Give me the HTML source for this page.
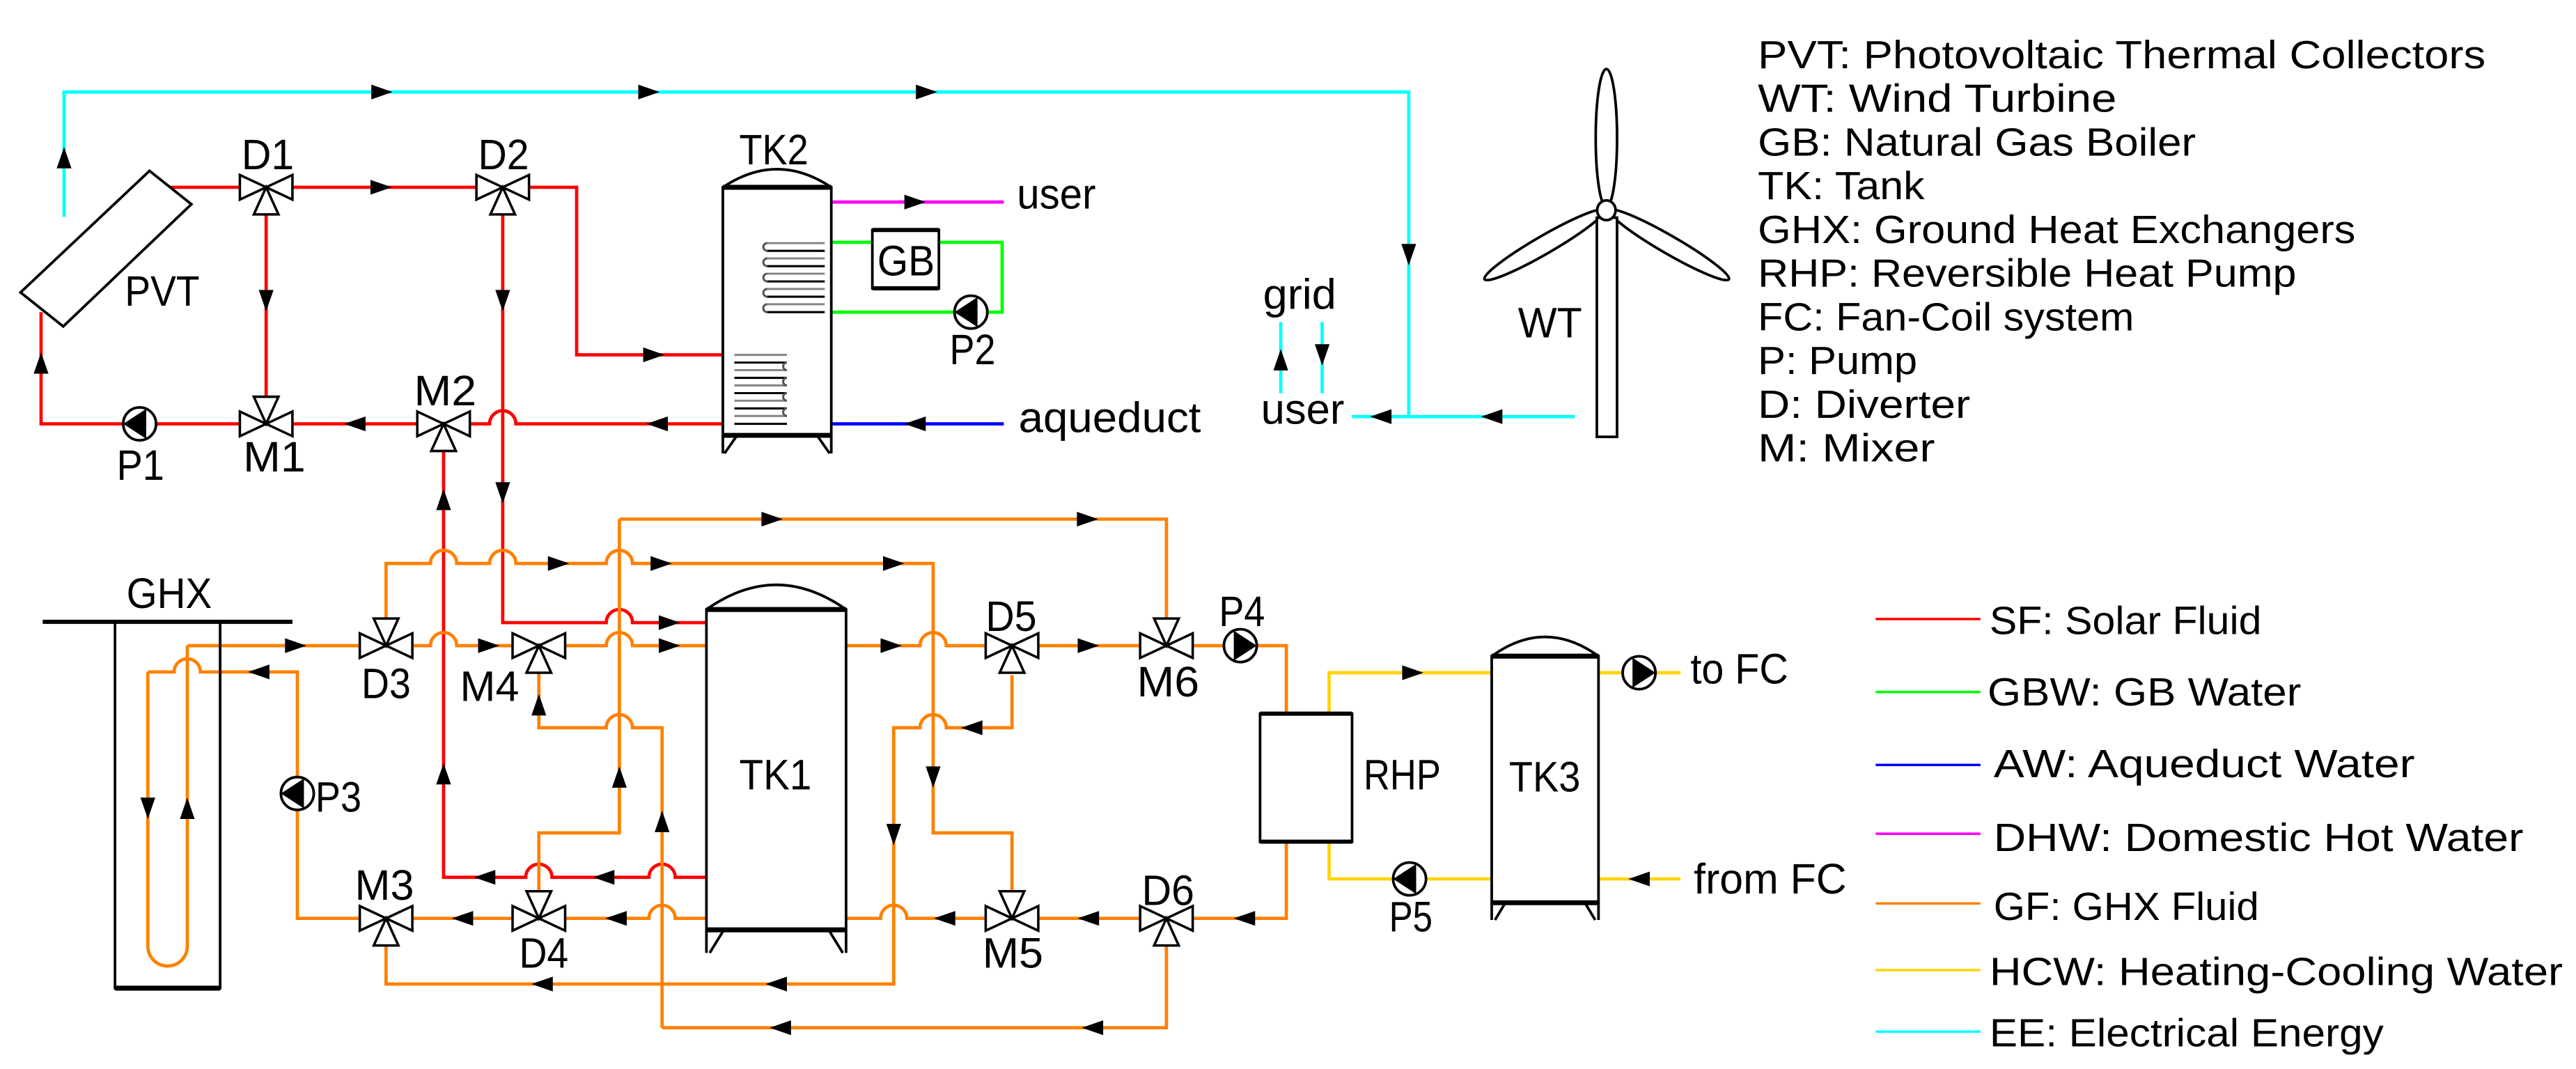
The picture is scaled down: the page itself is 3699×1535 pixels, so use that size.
<!DOCTYPE html>
<html><head><meta charset="utf-8"><style>
html,body{margin:0;padding:0;background:#fff;}
svg{display:block;}
text{font-family:"Liberation Sans",sans-serif;fill:#000;}
.l{font-size:26px;}
.g{font-size:24px;}
.r{stroke:#ff0000;}.o{stroke:#ff8000;}.y{stroke:#ffd400;}.c{stroke:#00ffff;}.gr{stroke:#00ff00;}.b{stroke:#0000ff;}.m{stroke:#ff00ff;}
path.p{fill:none;stroke-width:2;}
</style></head><body>
<svg width="3699" height="1535" viewBox="0 0 1568 650.7" preserveAspectRatio="none" xmlns="http://www.w3.org/2000/svg">
<defs>
<path id="ar" d="M6.5,0 L-6.5,-4.5 L-6.5,4.5Z" fill="#000"/>
<g id="v"><path d="M-16,-7.5 L16,7.5 L16,-7.5 L-16,7.5Z" fill="#fff" stroke="#000" stroke-width="1.5" stroke-linejoin="miter"/><path d="M0,0 L-7.5,16.5 L7.5,16.5Z" fill="#fff" stroke="#000" stroke-width="1.5"/></g>
<g id="pu"><circle r="10" fill="#fff" stroke="#000" stroke-width="1.6"/><path d="M-4,-9.1 L10,0 L-4,9.1Z" fill="#000"/></g>
</defs>
<rect width="1568" height="650.7" fill="#fff"/>

<!-- cyan -->
<path class="p c" d="M39,132 V56 H857.5 V253.6 M823,253.6 H958.6 M779.6,196 V239.4 M804.8,196 V239.4"/>
<!-- red -->
<path class="p r" d="M103.5,114 H351 V216 H445 M162,114 V258 M306,114 V379 H369 a8,8 0 0 1 16,0 H430 M25,190 V258 H298 a8,8 0 0 1 16,0 H445 M270,258 V534 H320 a8,8 0 0 1 16,0 H395 a8,8 0 0 1 16,0 H430"/>
<!-- green, magenta, blue -->
<path class="p gr" d="M500,147.5 H531 M571,147.5 H610 V190 H500"/>
<path class="p m" d="M506,123 H611"/>
<path class="p b" d="M506,258 H611"/>
<!-- orange -->
<path class="p o" d="M377,316 H710 V378 M377,316 V507 H328 V542
M235,378 V343 H262 a8,8 0 0 1 16,0 H298 a8,8 0 0 1 16,0 H369 a8,8 0 0 1 16,0 H568 V507 H616 V542
M114,393 V576 a12,12 0 0 1 -24,0 V409
M114,393 H262 a8,8 0 0 1 16,0 H369 a8,8 0 0 1 16,0 H430
M90,409 H106 a8,8 0 0 1 16,0 H181 V559 H235
M328,393 V443 H369 a8,8 0 0 1 16,0 H403 V625.6
M235,559 H395 a8,8 0 0 1 16,0 H430
M235,575 V599 H544 V443 H560 a8,8 0 0 1 16,0 H616 V411
M515,393 H560 a8,8 0 0 1 16,0 H783 V434
M515,559 H536 a8,8 0 0 1 16,0 H783 V512
M710,559 V625.6 H403"/>
<!-- yellow -->
<path class="p y" d="M809,434 V409.5 H908 M809,512 V535 H908 M973,409.5 H1023 M973,535 H1023"/>

<!-- PVT -->
<path d="M91,104 L116.5,124.3 L38.5,198.7 L12.5,178Z" fill="#fff" stroke="#000" stroke-width="1.6"/>

<!-- TK2 -->
<g fill="none" stroke="#000" stroke-width="1.6">
<rect x="440" y="114" width="66" height="151" fill="#fff"/>
<path d="M440,114 Q473,92 506,114"/>
<path d="M440,114 H506 M440,265 H506" stroke-width="3"/>
<path d="M440,265 V276 M448,266 L441,276 M506,265 V276 M498,266 L505,276"/>
<rect x="430" y="371" width="85" height="195" fill="#fff"/>
<path d="M430,371 Q472.5,341 515,371"/>
<path d="M430,371 H515 M430,566 H515" stroke-width="3"/>
<path d="M430,566 V580 M440,567 L432,580 M515,566 V580 M505,567 L513,580"/>
<rect x="908" y="399.4" width="65" height="150" fill="#fff"/>
<path d="M908,399.4 Q940.5,376 973,399.4"/>
<path d="M908,399.4 H973 M908,549.5 H973" stroke-width="3"/>
<path d="M908,549.5 V560 M916,550 L910,560 M973,549.5 V560 M965,550 L971,560"/>
<rect x="767" y="434.4" width="56" height="78" fill="#fff"/>
<path d="M767,434.4 H823 M767,512.3 H823" stroke-width="2.5"/>
<rect x="531" y="140" width="40.5" height="35.5" fill="#fff"/>
<path d="M531,140 H571.5 M531,175.5 H571.5" stroke-width="2.5"/>
<!-- GHX -->
<path d="M26,378.5 H178" stroke-width="2.5"/>
<path d="M70,378.5 V601.5 H134 V378.5"/>
<path d="M70,601.5 H134" stroke-width="3"/>
</g>
<!-- coils -->
<g fill="none" stroke-width="1.3">
<path stroke="#888" d="M502,148 H467 M502,157.3 H467 M502,166.6 H467 M502,175.9 H467 M502,185.2 H467"/>
<path stroke="#000" d="M502,152.7 H467 M502,162 H467 M502,171.3 H467 M502,180.6 H467 M502,190 H467"/>
<path stroke="#555" d="M467,148 a2.3,2.3 0 0 0 0,4.7 M467,157.3 a2.3,2.3 0 0 0 0,4.7 M467,166.6 a2.3,2.3 0 0 0 0,4.7 M467,175.9 a2.3,2.3 0 0 0 0,4.7 M467,185.2 a2.3,2.3 0 0 0 0,4.8"/>
<path stroke="#888" d="M447,216 H479 M447,225.3 H479 M447,234.6 H479 M447,243.9 H479 M447,253.2 H479"/>
<path stroke="#000" d="M447,220.7 H479 M447,230 H479 M447,239.3 H479 M447,248.6 H479 M447,258 H479"/>
<path stroke="#555" d="M479,220.7 a2.3,2.3 0 0 0 0,4.6 M479,230 a2.3,2.3 0 0 0 0,4.6 M479,239.3 a2.3,2.3 0 0 0 0,4.6 M479,248.6 a2.3,2.3 0 0 0 0,4.6"/>
</g>

<!-- wind turbine -->
<g fill="#fff" stroke="#000" stroke-width="1.6">
<ellipse cx="977.8" cy="84" rx="6.5" ry="42"/>
<ellipse cx="940" cy="149" rx="42" ry="5.5" transform="rotate(-30 940 149)"/>
<ellipse cx="1016" cy="149" rx="42" ry="5.5" transform="rotate(30 1016 149)"/>
<rect x="972" y="132.5" width="12.3" height="133.4"/>
<ellipse cx="977.8" cy="128" rx="5.6" ry="6"/>
</g>

<!-- valves -->
<use href="#v" transform="translate(162,114)"/>
<use href="#v" transform="translate(306,114)"/>
<use href="#v" transform="translate(162,258) rotate(180)"/>
<use href="#v" transform="translate(270,258)"/>
<use href="#v" transform="translate(235,393) rotate(180)"/>
<use href="#v" transform="translate(328,393)"/>
<use href="#v" transform="translate(616,393)"/>
<use href="#v" transform="translate(710,393) rotate(180)"/>
<use href="#v" transform="translate(235,559)"/>
<use href="#v" transform="translate(328,559) rotate(180)"/>
<use href="#v" transform="translate(616,559) rotate(180)"/>
<use href="#v" transform="translate(710,559)"/>

<!-- pumps -->
<use href="#pu" transform="translate(85,258) rotate(180)"/>
<use href="#pu" transform="translate(591,190) rotate(180)"/>
<use href="#pu" transform="translate(181,483) rotate(180)"/>
<use href="#pu" transform="translate(755,393)"/>
<use href="#pu" transform="translate(858,535) rotate(180)"/>
<use href="#pu" transform="translate(997.7,409.5)"/>

<!-- arrows -->
<use href="#ar" transform="translate(232,114)"/>
<use href="#ar" transform="translate(398,216)"/>
<use href="#ar" transform="translate(162,183) rotate(90)"/>
<use href="#ar" transform="translate(306,183) rotate(90)"/>
<use href="#ar" transform="translate(306,300) rotate(90)"/>
<use href="#ar" transform="translate(25,221) rotate(-90)"/>
<use href="#ar" transform="translate(216,258) rotate(180)"/>
<use href="#ar" transform="translate(400,258) rotate(180)"/>
<use href="#ar" transform="translate(270,304) rotate(-90)"/>
<use href="#ar" transform="translate(270,471) rotate(-90)"/>
<use href="#ar" transform="translate(407.5,379)"/>
<use href="#ar" transform="translate(295,534) rotate(180)"/>
<use href="#ar" transform="translate(367.5,534) rotate(180)"/>
<use href="#ar" transform="translate(557,123)"/>
<use href="#ar" transform="translate(557,258) rotate(180)"/>
<use href="#ar" transform="translate(39,96) rotate(-90)"/>
<use href="#ar" transform="translate(232.5,56)"/>
<use href="#ar" transform="translate(395,56)"/>
<use href="#ar" transform="translate(564,56)"/>
<use href="#ar" transform="translate(857.5,155) rotate(90)"/>
<use href="#ar" transform="translate(840.5,253.6) rotate(180)"/>
<use href="#ar" transform="translate(908,253.6) rotate(180)"/>
<use href="#ar" transform="translate(779.6,219) rotate(-90)"/>
<use href="#ar" transform="translate(804.8,216) rotate(90)"/>
<use href="#ar" transform="translate(470,316)"/>
<use href="#ar" transform="translate(662,316)"/>
<use href="#ar" transform="translate(377,473) rotate(-90)"/>
<use href="#ar" transform="translate(340,343)"/>
<use href="#ar" transform="translate(402.5,343)"/>
<use href="#ar" transform="translate(544,343)"/>
<use href="#ar" transform="translate(568,473) rotate(90)"/>
<use href="#ar" transform="translate(180,393)"/>
<use href="#ar" transform="translate(297.5,393)"/>
<use href="#ar" transform="translate(407.5,393)"/>
<use href="#ar" transform="translate(157.5,409) rotate(180)"/>
<use href="#ar" transform="translate(90,492) rotate(90)"/>
<use href="#ar" transform="translate(114,492) rotate(-90)"/>
<use href="#ar" transform="translate(328,429) rotate(-90)"/>
<use href="#ar" transform="translate(403,500) rotate(-90)"/>
<use href="#ar" transform="translate(281.5,559) rotate(180)"/>
<use href="#ar" transform="translate(375,559) rotate(180)"/>
<use href="#ar" transform="translate(330,599) rotate(180)"/>
<use href="#ar" transform="translate(472.5,599) rotate(180)"/>
<use href="#ar" transform="translate(544,508) rotate(90)"/>
<use href="#ar" transform="translate(591.5,443) rotate(180)"/>
<use href="#ar" transform="translate(542.5,393)"/>
<use href="#ar" transform="translate(662.5,393)"/>
<use href="#ar" transform="translate(575,559) rotate(180)"/>
<use href="#ar" transform="translate(662.5,559) rotate(180)"/>
<use href="#ar" transform="translate(757.5,559) rotate(180)"/>
<use href="#ar" transform="translate(665,625.6) rotate(180)"/>
<use href="#ar" transform="translate(475,625.6) rotate(180)"/>
<use href="#ar" transform="translate(860,409.5)"/>
<use href="#ar" transform="translate(997.7,535) rotate(180)"/>

<!-- diagram labels -->
<g class="l" lengthAdjust="spacingAndGlyphs">
<text x="76" y="186" textLength="45.5" lengthAdjust="spacingAndGlyphs">PVT</text>
<text x="147" y="103" textLength="32" lengthAdjust="spacingAndGlyphs">D1</text>
<text x="291" y="103" textLength="31" lengthAdjust="spacingAndGlyphs">D2</text>
<text x="450" y="100" textLength="42" lengthAdjust="spacingAndGlyphs">TK2</text>
<text x="619" y="127" textLength="48" lengthAdjust="spacingAndGlyphs">user</text>
<text x="534" y="167.6" textLength="35" lengthAdjust="spacingAndGlyphs">GB</text>
<text x="578" y="221.7" textLength="28" lengthAdjust="spacingAndGlyphs">P2</text>
<text x="620" y="263" textLength="111" lengthAdjust="spacingAndGlyphs">aqueduct</text>
<text x="71" y="292" textLength="29" lengthAdjust="spacingAndGlyphs">P1</text>
<text x="148" y="287" textLength="38" lengthAdjust="spacingAndGlyphs">M1</text>
<text x="252" y="246.7" textLength="38" lengthAdjust="spacingAndGlyphs">M2</text>
<text x="77" y="370" textLength="52" lengthAdjust="spacingAndGlyphs">GHX</text>
<text x="220" y="425" textLength="30" lengthAdjust="spacingAndGlyphs">D3</text>
<text x="280" y="426.7" textLength="36" lengthAdjust="spacingAndGlyphs">M4</text>
<text x="192" y="494" textLength="28" lengthAdjust="spacingAndGlyphs">P3</text>
<text x="216" y="547.6" textLength="36" lengthAdjust="spacingAndGlyphs">M3</text>
<text x="316" y="589" textLength="30" lengthAdjust="spacingAndGlyphs">D4</text>
<text x="450" y="480.5" textLength="44" lengthAdjust="spacingAndGlyphs">TK1</text>
<text x="600" y="384" textLength="31" lengthAdjust="spacingAndGlyphs">D5</text>
<text x="692" y="424" textLength="38" lengthAdjust="spacingAndGlyphs">M6</text>
<text x="742" y="381" textLength="28" lengthAdjust="spacingAndGlyphs">P4</text>
<text x="695" y="550.8" textLength="32" lengthAdjust="spacingAndGlyphs">D6</text>
<text x="598" y="589" textLength="37" lengthAdjust="spacingAndGlyphs">M5</text>
<text x="830" y="480.6" textLength="47" lengthAdjust="spacingAndGlyphs">RHP</text>
<text x="918.5" y="481.8" textLength="43.5" lengthAdjust="spacingAndGlyphs">TK3</text>
<text x="845.5" y="567" textLength="26.5" lengthAdjust="spacingAndGlyphs">P5</text>
<text x="1029" y="416" textLength="59.5" lengthAdjust="spacingAndGlyphs">to FC</text>
<text x="1031" y="543.8" textLength="93" lengthAdjust="spacingAndGlyphs">from FC</text>
<text x="768.8" y="188" textLength="44.6" lengthAdjust="spacingAndGlyphs">grid</text>
<text x="767.5" y="258" textLength="50.8" lengthAdjust="spacingAndGlyphs">user</text>
<text x="924" y="205.3" textLength="39" lengthAdjust="spacingAndGlyphs">WT</text>
</g>

<!-- legend -->
<g class="g">
<text x="1070" y="41.5" textLength="443" lengthAdjust="spacingAndGlyphs">PVT: Photovoltaic Thermal Collectors</text>
<text x="1070" y="68" textLength="218.4" lengthAdjust="spacingAndGlyphs">WT: Wind Turbine</text>
<text x="1070" y="94.7" textLength="266.6" lengthAdjust="spacingAndGlyphs">GB: Natural Gas Boiler</text>
<text x="1070" y="121.3" textLength="101.5" lengthAdjust="spacingAndGlyphs">TK: Tank</text>
<text x="1070" y="147.9" textLength="363.8" lengthAdjust="spacingAndGlyphs">GHX: Ground Heat Exchangers</text>
<text x="1070" y="174.5" textLength="327.8" lengthAdjust="spacingAndGlyphs">RHP: Reversible Heat Pump</text>
<text x="1070" y="201.1" textLength="229" lengthAdjust="spacingAndGlyphs">FC: Fan-Coil system</text>
<text x="1070" y="227.7" textLength="97" lengthAdjust="spacingAndGlyphs">P: Pump</text>
<text x="1070" y="254.3" textLength="129.3" lengthAdjust="spacingAndGlyphs">D: Diverter</text>
<text x="1070" y="280.9" textLength="107.8" lengthAdjust="spacingAndGlyphs">M: Mixer</text>
</g>
<g stroke-width="1.5">
<path class="r" d="M1141.7,376.8 H1205.5"/>
<path class="gr" d="M1141.7,421.2 H1205.5"/>
<path class="b" d="M1141.7,465.6 H1205.5"/>
<path class="m" d="M1141.7,507.5 H1205.5"/>
<path class="o" d="M1141.7,549.9 H1205.5"/>
<path class="y" d="M1141.7,590.5 H1205.5"/>
<path class="c" d="M1141.7,627.9 H1205.5"/>
</g>
<g class="g">
<text x="1211" y="386" textLength="165.6" lengthAdjust="spacingAndGlyphs">SF: Solar Fluid</text>
<text x="1209.8" y="429.5" textLength="190.9" lengthAdjust="spacingAndGlyphs">GBW: GB Water</text>
<text x="1213.5" y="473" textLength="256.4" lengthAdjust="spacingAndGlyphs">AW: Aqueduct Water</text>
<text x="1213.5" y="518" textLength="322.5" lengthAdjust="spacingAndGlyphs">DHW: Domestic Hot Water</text>
<text x="1213.5" y="560" textLength="161.5" lengthAdjust="spacingAndGlyphs">GF: GHX Fluid</text>
<text x="1211" y="599.7" textLength="349" lengthAdjust="spacingAndGlyphs">HCW: Heating-Cooling Water</text>
<text x="1211" y="637" textLength="239.9" lengthAdjust="spacingAndGlyphs">EE: Electrical Energy</text>
</g>
</svg>
</body></html>
